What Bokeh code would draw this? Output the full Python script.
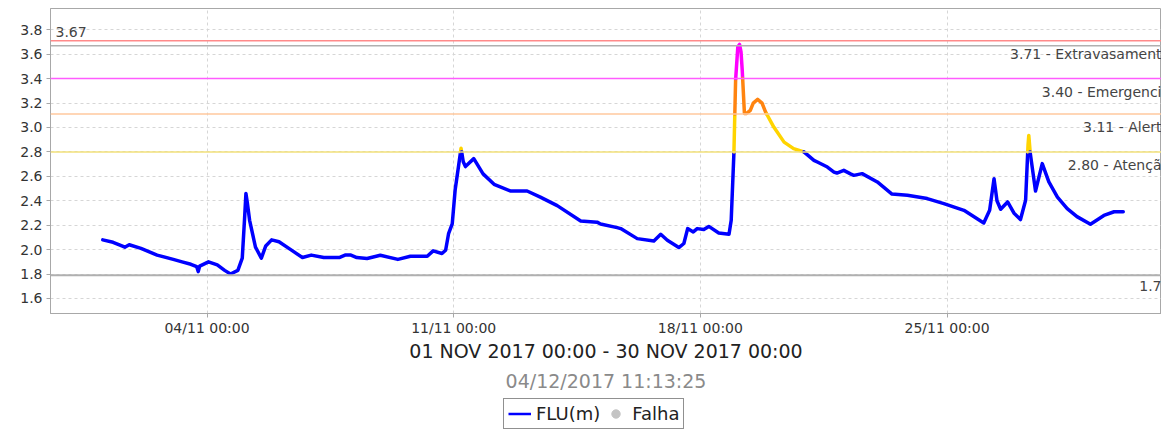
import numpy as np
import pandas as pd
from bokeh.plotting import figure
from bokeh.layouts import column
from bokeh.models import (Span, Label, Legend, LegendItem, FixedTicker, PrintfTickFormatter,
                          DatetimeTickFormatter, Range1d, Title, ColumnDataSource)
from bokeh.embed import file_html
from bokeh.resources import INLINE

# ---------------- data ----------------
times = [
    "2017-11-01 01:00", "2017-11-01 08:00", "2017-11-01 14:00", "2017-11-01 16:00", "2017-11-01 19:00",
    "2017-11-02 03:00", "2017-11-02 14:00", "2017-11-03 01:00", "2017-11-03 07:00", "2017-11-03 13:00",
    "2017-11-03 17:00", "2017-11-03 18:00", "2017-11-03 19:00", "2017-11-04 01:00", "2017-11-04 07:00",
    "2017-11-04 12:00", "2017-11-04 16:00", "2017-11-04 21:00", "2017-11-05 00:00", "2017-11-05 01:30",
    "2017-11-05 02:30", "2017-11-05 03:30", "2017-11-05 05:00", "2017-11-05 09:00", "2017-11-05 13:00",
    "2017-11-05 16:00", "2017-11-05 20:00", "2017-11-06 01:00", "2017-11-06 09:00", "2017-11-06 17:00",
    "2017-11-06 23:00", "2017-11-07 07:30", "2017-11-07 18:00", "2017-11-07 22:00", "2017-11-08 02:00",
    "2017-11-08 06:00", "2017-11-08 13:00", "2017-11-08 22:00", "2017-11-09 10:00", "2017-11-09 18:30",
    "2017-11-10 06:00", "2017-11-10 10:00", "2017-11-10 16:00", "2017-11-10 18:30", "2017-11-10 20:30",
    "2017-11-10 23:00", "2017-11-11 01:00", "2017-11-11 03:30", "2017-11-11 05:00", "2017-11-11 06:30",
    "2017-11-11 08:00", "2017-11-11 13:40", "2017-11-11 20:00", "2017-11-12 03:30", "2017-11-12 14:30",
    "2017-11-13 02:00", "2017-11-13 11:00", "2017-11-13 22:30", "2017-11-14 14:30", "2017-11-15 01:40",
    "2017-11-15 04:00", "2017-11-15 15:20", "2017-11-15 17:45", "2017-11-16 05:00", "2017-11-16 16:20",
    "2017-11-16 21:00", "2017-11-17 01:30", "2017-11-17 09:20", "2017-11-17 12:45", "2017-11-17 15:20",
    "2017-11-17 19:10", "2017-11-17 21:50", "2017-11-18 02:20", "2017-11-18 05:45", "2017-11-18 12:30",
    "2017-11-18 19:30", "2017-11-18 21:00", "2017-11-18 22:50", "2017-11-19 00:00", "2017-11-19 01:30",
    "2017-11-19 02:40", "2017-11-19 03:40", "2017-11-19 04:30", "2017-11-19 06:00", "2017-11-19 07:30",
    "2017-11-19 10:00", "2017-11-19 12:00", "2017-11-19 15:00", "2017-11-19 18:00", "2017-11-19 20:25",
    "2017-11-20 02:00", "2017-11-20 09:00", "2017-11-20 15:30", "2017-11-20 22:30", "2017-11-21 05:20",
    "2017-11-21 07:40", "2017-11-21 14:30", "2017-11-21 19:00", "2017-11-21 21:00", "2017-11-22 01:40",
    "2017-11-22 06:15", "2017-11-22 08:30", "2017-11-22 14:10", "2017-11-23 00:30", "2017-11-23 10:30",
    "2017-11-23 21:00", "2017-11-24 10:30", "2017-11-24 21:50", "2017-11-25 11:30", "2017-11-26 01:00",
    "2017-11-26 05:00", "2017-11-26 08:00", "2017-11-26 10:00", "2017-11-26 12:30", "2017-11-26 17:15",
    "2017-11-26 21:30", "2017-11-27 02:00", "2017-11-27 05:30", "2017-11-27 07:10", "2017-11-27 07:40",
    "2017-11-27 08:40", "2017-11-27 12:15", "2017-11-27 16:50", "2017-11-27 21:20", "2017-11-28 03:10",
    "2017-11-28 09:50", "2017-11-28 16:30", "2017-11-29 01:40", "2017-11-29 10:50", "2017-11-29 17:45",
    "2017-11-30 00:00",
]
levels = [
    2.08, 2.06, 2.03, 2.02, 2.04,
    2.01, 1.955, 1.92, 1.90, 1.88,
    1.86, 1.82, 1.865, 1.90, 1.875,
    1.83, 1.80, 1.83, 1.93, 2.24,
    2.46, 2.38, 2.24, 2.02, 1.93,
    2.03, 2.08, 2.065, 2.00, 1.935,
    1.955, 1.935, 1.935, 1.955, 1.955,
    1.935, 1.927, 1.954, 1.92, 1.946,
    1.946, 1.99, 1.968, 1.995, 2.13,
    2.21, 2.49, 2.70, 2.83, 2.72,
    2.68, 2.745, 2.62, 2.535, 2.48,
    2.48, 2.43, 2.36, 2.235, 2.225,
    2.21, 2.18, 2.172, 2.09, 2.071,
    2.126, 2.077, 2.017, 2.05, 2.172,
    2.145, 2.172, 2.164, 2.19, 2.136,
    2.126, 2.24, 2.79, 3.39, 3.66,
    3.68, 3.62, 3.47, 3.115, 3.115,
    3.14, 3.20, 3.23, 3.20, 3.126,
    3.003, 2.88, 2.827, 2.80, 2.731,
    2.717, 2.676, 2.635, 2.627, 2.649,
    2.62, 2.608, 2.622, 2.554, 2.455,
    2.445, 2.418, 2.377, 2.322, 2.218,
    2.322, 2.58, 2.40, 2.33, 2.39,
    2.30, 2.246, 2.404, 2.86, 2.935,
    2.79, 2.48, 2.704, 2.554, 2.43,
    2.336, 2.27, 2.208, 2.28, 2.31,
    2.31,
]

threshold_values = [3.71, 3.40, 3.11, 2.80]
threshold_labels = ["3.71 - Extravasament", "3.40 - Emergenci", "3.11 - Alert", "2.80 - Atençã"]
threshold_colors = ["#FF8A8A", "#FF5CFF", "#FFC99E", "#F2E07A"]
series_max = 3.67
series_max_label = "3.67"
series_min = 1.79
series_min_label = "1.7"
band_bounds = [2.80, 3.11, 3.40]
band_colors = ["#0000FF", "#FFD400", "#FF8410", "#FF00FF"]
y_ticks = [1.6, 1.8, 2.0, 2.2, 2.4, 2.6, 2.8, 3.0, 3.2, 3.4, 3.6, 3.8]
x_tick_dates = ["2017-11-04", "2017-11-11", "2017-11-18", "2017-11-25"]
period_label = "01 NOV 2017 00:00 - 30 NOV 2017 00:00"
generated_at = "04/12/2017 11:13:25"
legend_series = "FLU(m)"
legend_fail = "Falha"

FONT = "DejaVu Sans"

def to_ms(vals):
    return pd.to_datetime(vals).values.astype("datetime64[ms]").astype(np.int64).astype(float)

t = to_ms(times)
v = np.array(levels, dtype=float)

# split the series into coloured pieces at the threshold levels
def band(val):
    return int(np.searchsorted(band_bounds, val, side="right"))

segs = []
for i in range(len(t) - 1):
    x0, y0, x1, y1 = t[i], v[i], t[i + 1], v[i + 1]
    lo, hi = min(y0, y1), max(y0, y1)
    cross = [b for b in band_bounds if lo < b < hi]
    if y1 < y0:
        cross = cross[::-1]
    pts = [(x0, y0)] + [(x0 + (b - y0) / (y1 - y0) * (x1 - x0), b) for b in cross] + [(x1, y1)]
    for (ax, ay), (bx, by) in zip(pts[:-1], pts[1:]):
        segs.append((ax, ay, bx, by, band((ay + by) / 2)))

xs, ys, cols = [], [], []
cur_b = None
for ax, ay, bx, by, b in segs:
    if b != cur_b:
        xs.append([ax, bx]); ys.append([ay, by]); cols.append(band_colors[b]); cur_b = b
    else:
        xs[-1].append(bx); ys[-1].append(by)

x_start = to_ms(["2017-10-30 13:24"])[0]
x_end = to_ms(["2017-12-01 02:03"])[0]

p = figure(x_axis_type="datetime", output_backend="svg", toolbar_location=None,
           frame_width=1111, frame_height=305,
           x_range=Range1d(x_start, x_end), y_range=Range1d(1.477, 3.974),
           min_border_left=50, min_border_right=0, min_border_top=8, min_border_bottom=84)
p.background_fill_color = "white"
p.border_fill_color = "white"
p.outline_line_color = "#A8A8A8"
p.outline_line_width = 1

# grids
for g in (p.xgrid, p.ygrid):
    g.grid_line_color = "#D6D6D6"
    g.grid_line_dash = "3 3"
    g.grid_line_width = 1

# axes
p.yaxis.ticker = FixedTicker(ticks=y_ticks)
p.yaxis.formatter = PrintfTickFormatter(format="%.1f")
p.xaxis.ticker = FixedTicker(ticks=list(to_ms(x_tick_dates)))
p.xaxis.formatter = DatetimeTickFormatter(days="%d/%m %H:%M", months="%d/%m %H:%M",
                                          hours="%d/%m %H:%M")
for ax in (p.xaxis, p.yaxis):
    ax.axis_line_color = "#A8A8A8"
    ax.major_tick_line_color = "#A8A8A8"
    ax.major_tick_out = 4
    ax.major_tick_in = 0
    ax.minor_tick_line_color = None
    ax.major_label_text_font = FONT
    ax.major_label_text_font_size = "14px"
    ax.major_label_text_color = "#333333"
p.yaxis.major_label_standoff = 4
p.xaxis.major_label_standoff = 2
p.xaxis.axis_label = period_label
p.xaxis.axis_label_text_font = FONT
p.xaxis.axis_label_text_font_size = "19px"
p.xaxis.axis_label_text_font_style = "normal"
p.xaxis.axis_label_text_color = "#222222"
p.xaxis.axis_label_standoff = 1

# threshold lines
for val, col in zip(threshold_values, threshold_colors):
    p.add_layout(Span(location=val, dimension="width", line_color=col, line_width=1.5))
p.add_layout(Span(location=series_max, dimension="width", line_color="#B0B0B0", line_width=1.5))
p.add_layout(Span(location=series_min, dimension="width", line_color="#B0B0B0", line_width=2))

# series
src = ColumnDataSource(dict(xs=xs, ys=ys, color=cols))
p.multi_line(xs="xs", ys="ys", line_color="color", line_width=3.5, line_join="round",
             line_cap="round", source=src)

# labels
for val, txt in zip(threshold_values, threshold_labels):
    p.add_layout(Label(x=x_end, y=val, text=txt, text_align="right", text_baseline="top",
                       y_offset=-5, text_font=FONT, text_font_size="14px", text_color="#444444"))
p.add_layout(Label(x=x_end, y=series_min, text=series_min_label, text_align="right",
                   text_baseline="top", y_offset=-6, text_font=FONT, text_font_size="14px",
                   text_color="#444444"))
p.add_layout(Label(x=x_start, y=series_max, text=series_max_label, text_align="left",
                   text_baseline="bottom", x_offset=5, y_offset=9, text_font=FONT,
                   text_font_size="14px", text_color="#444444"))

# timestamp
p.add_layout(Title(text=generated_at, align="center", text_font=FONT, text_font_size="19px",
                   text_font_style="normal", text_color="#8A8A8A", standoff=6), "below")

# ---------------- legend strip ----------------
lg = figure(width=1161, height=32, output_backend="svg", toolbar_location=None,
            x_range=Range1d(0, 1), y_range=Range1d(0, 1),
            x_axis_location=None, y_axis_location=None,
            min_border_left=0, min_border_right=0, min_border_top=0, min_border_bottom=0)
lg.grid.visible = False
lg.outline_line_color = None
lg.background_fill_color = "white"
lg.border_fill_color = "white"
# legend proxies, kept outside the visible range
r_line = lg.line(x=[5, 6], y=[5, 6], line_color="#0000FF", line_width=2.5)
r_fail = lg.scatter(x=[5], y=[5], marker="circle", size=10, fill_color="#C4C4C4",
                    line_color="#C4C4C4")
legend = Legend(items=[LegendItem(label=legend_series, renderers=[r_line]),
                       LegendItem(label=legend_fail, renderers=[r_fail])],
                orientation="horizontal", location=(453, 0), border_line_color="#222222",
                border_line_width=1, padding=4, margin=0, spacing=4, label_standoff=5,
                glyph_width=23, glyph_height=21, label_height=21,
                label_text_font=FONT, label_text_font_size="18px", label_text_color="#222222",
                background_fill_color="white")
lg.add_layout(legend, "center")

layout = column(p, lg, spacing=0)
open("out.html", "w").write(file_html(layout, INLINE))
